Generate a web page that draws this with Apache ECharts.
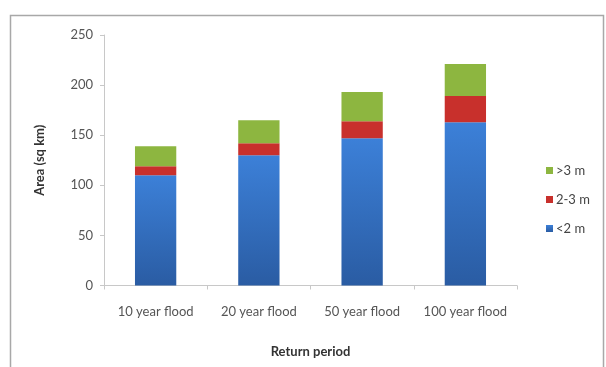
<!DOCTYPE html>
<html><head><meta charset="utf-8">
<script src="https://cdn.jsdelivr.net/npm/echarts@6/dist/echarts.min.js"></script>
<style>html,body{margin:0;padding:0;background:#fff}#c{width:606px;height:367px}</style>
</head><body><div id="c"></div>
<script>
const categories = ['10 year flood', '20 year flood', '50 year flood', '100 year flood'];
const below2 = [110, 130, 147, 163];
const between2and3 = [9, 12, 17, 26];
const above3 = [20, 23, 29, 32];
const yTicks = [0, 50, 100, 150, 200, 250];

const chart = echarts.init(document.getElementById('c'));
const font = 'Lato, "Open Sans", "Liberation Sans", sans-serif';
chart.setOption({
  animation: false,
  graphic: [{
    type: 'rect', shape: {x: 10.5, y: 15.5, width: 593, height: 400},
    style: {fill: 'none', stroke: '#a8a8a8', lineWidth: 1.5}, silent: true
  }],
  grid: {left: 104, right: 89, top: 35, bottom: 81.5},
  legend: {
    orient: 'vertical', left: 541, top: 159, itemGap: 16,
    itemWidth: 7, itemHeight: 7, icon: 'rect',
    data: ['>3 m', '2-3 m', '<2 m'],
    textStyle: {fontFamily: font, fontSize: 13, color: '#444', padding: [0, 0, 0, -2]}
  },
  xAxis: {
    type: 'category', data: categories,
    name: 'Return period', nameLocation: 'middle', nameGap: 60,
    nameTextStyle: {fontFamily: font, fontSize: 13, fontWeight: 'bold', color: '#333'},
    axisLine: {lineStyle: {color: '#c8c8c8'}},
    axisTick: {show: true, length: 4, lineStyle: {color: '#c8c8c8'}},
    axisLabel: {fontFamily: font, fontSize: 13, color: '#555', margin: 20, interval: 0, hideOverlap: false}
  },
  yAxis: {
    type: 'value', min: yTicks[0], max: yTicks[yTicks.length - 1], interval: 50,
    name: 'Area (sq km)', nameLocation: 'middle', nameGap: 58, nameRotate: 90,
    nameTextStyle: {fontFamily: font, fontSize: 13, fontWeight: 'bold', color: '#333'},
    axisLine: {show: true, lineStyle: {color: '#c8c8c8'}},
    axisTick: {show: true, length: 4, inside: false, lineStyle: {color: '#c8c8c8'}},
    splitLine: {show: false},
    axisLabel: {fontFamily: font, fontSize: 13, color: '#555', margin: 11}
  },
  series: [
    {name: '<2 m', type: 'bar', stack: 'a', data: below2, barWidth: '40%',
     itemStyle: {color: new echarts.graphic.LinearGradient(0, 0, 0, 1, [
       {offset: 0, color: '#3c80d8'}, {offset: 1, color: '#2a5ca3'}])}},
    {name: '2-3 m', type: 'bar', stack: 'a', data: between2and3,
     itemStyle: {color: '#c8302c'}},
    {name: '>3 m', type: 'bar', stack: 'a', data: above3,
     itemStyle: {color: '#8db640'}}
  ]
});
</script></body></html>
